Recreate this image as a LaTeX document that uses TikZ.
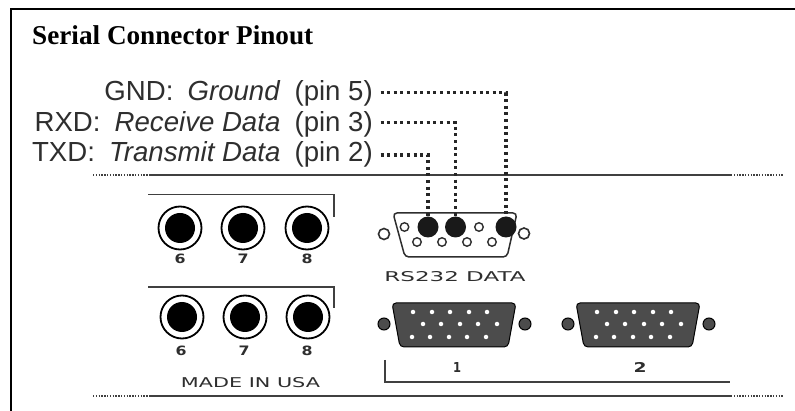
\documentclass[tikz,border=0pt]{standalone}
\usepackage{fontspec}
\usepackage{graphicx}
\setmainfont{Liberation Sans}
\newfontfamily\titlefont{Liberation Serif}
\newfontfamily\stampfont{DejaVu Sans}
\definecolor{ink}{HTML}{2E2E2E}
\definecolor{rulecol}{HTML}{404040}
\definecolor{vgafill}{HTML}{4C4C4C}
\newcommand{\fitstamp}[3]{\resizebox{#1pt}{#2pt}{\stampfont #3}}
\tikzset{
  pinlabel/.style={inner sep=0pt,anchor=base east,text=ink,font=\fontsize{27.6}{30}\selectfont},
  stamp/.style={inner sep=0pt,text=ink},
  leader/.style={line width=3.1pt,black!85,dash pattern=on 3pt off 3.6pt},
  sideleader/.style={line width=1.8pt,rulecol,dash pattern=on 1.4pt off 1.4pt},
  mainrule/.style={line width=2pt,rulecol},
  bracket/.style={line width=1.6pt,rulecol},
  bigpin/.style={circle,fill=black!90,minimum size=21pt,inner sep=0pt},
  hole/.style={circle,draw=ink,line width=1.4pt,fill=white,minimum size=8.5pt,inner sep=0pt},
  sidehole/.style={circle,draw=ink,line width=1.6pt,fill=white,minimum size=11pt,inner sep=0pt},
  screw/.style={circle,draw=black,line width=1pt,fill=vgafill,minimum size=12pt,inner sep=0pt},
  vgapin/.style={circle,fill=white,minimum size=4.5pt,inner sep=0pt},
}
\newcommand{\jack}[3]{%
  \node[circle,draw=black,line width=1.8pt,fill=white,minimum size=43pt,inner sep=0pt] (#3) at (#1,#2) {};
  \node[circle,fill=black,minimum size=30pt,inner sep=0pt] at (#1,#2) {};
}
\newcommand{\vga}[1]{%
  \begin{scope}[shift={(#1,0)}]
    \fill[vgafill,draw=black,line width=1pt,rounded corners=4pt]
      (392,303) -- (516,303) -- (508,347) -- (400,347) -- cycle;
    \foreach \x in {413,432,450,469,487} \node[vgapin] at (\x,312) {};
    \foreach \x in {423,441,460,478,497} \node[vgapin] at (\x,324) {};
    \foreach \x in {412,430,449,467,486} \node[vgapin] at (\x,337) {};
  \end{scope}
}
\begin{document}
\begin{tikzpicture}[x=1pt,y=-1pt]
\useasboundingbox (0,0) rectangle (795,411);
\fill[white] (0,0) rectangle (795,411);
% frame (open on the right and the bottom)
\draw[line width=2.4pt,black] (11,411) -- (11,9) -- (795,9);
\node[inner sep=0pt,anchor=base west,font=\titlefont\bfseries\fontsize{27.2}{30}\selectfont] (title) at (32,45) {Serial Connector Pinout};
% labels
\node[pinlabel] (gnd) at (373,100.7) {GND:\hspace{6.5pt} \textit{Ground}\hspace{6.5pt} (pin 5)};
\node[pinlabel] (rxd) at (373,131.7) {RXD:\hspace{6.5pt} \textit{Receive Data}\hspace{6.5pt} (pin 3)};
\node[pinlabel] (txd) at (373,162) {TXD:\hspace{6.5pt} \textit{Transmit Data}\hspace{6.5pt} (pin 2)};
% long rules
\coordinate (ruleA) at (150,175.4);
\coordinate (ruleB) at (731,175.4);
\coordinate (ruleC) at (150,395.6);
\coordinate (ruleD) at (731,395.6);
\coordinate (dotA) at (93,175.4);
\coordinate (dotB) at (783,175.4);
\coordinate (dotC) at (93,395.6);
\coordinate (dotD) at (783,395.6);
\draw[mainrule] (ruleA) -- (ruleB);
\draw[mainrule] (ruleC) -- (ruleD);
\draw[sideleader] (dotA) -- (ruleA);
\draw[sideleader] (ruleB) -- (dotB);
\draw[sideleader] (dotC) -- (ruleC);
\draw[sideleader] (ruleD) -- (dotD);
% jack brackets
\draw[bracket] (148,194.5) -- (334,194.5) -- (334,217);
\draw[bracket] (148,287) -- (334,287) -- (334,308);
% jacks
\jack{180}{228}{ja}\jack{243}{228}{jb}\jack{307}{228}{jc}
\jack{182}{317}{jd}\jack{245}{317}{je}\jack{308}{317}{jf}
\foreach \x/\t in {180/6,243/7,307/8} \node[stamp] at (\x,259) {\fitstamp{11}{9.5}{\bfseries\t}};
\foreach \x/\t in {181/6,244/7,307/8} \node[stamp] at (\x,351) {\fitstamp{11}{9.5}{\bfseries\t}};
\node[stamp] (usa) at (250.5,382.5) {\fitstamp{139}{10}{MADE IN USA}};
% serial connector
\draw[ink,line width=1.5pt,fill=white,rounded corners=4pt] (393,213) -- (517,213) -- (507,257) -- (405,257) -- cycle;
\node[sidehole] at (384,234) {};
\node[sidehole] at (524,233.5) {};
\foreach \x in {404.5,479} \node[hole] at (\x,227) {};
\foreach \x in {417,442,467,492} \node[hole] at (\x,242) {};
\node[bigpin] (p2) at (428,227) {};
\node[bigpin] (p3) at (455.5,227) {};
\node[bigpin] (p5) at (506,227) {};
\node[stamp] (rs) at (455,277) {\fitstamp{141}{10}{RS232 DATA}};
% leaders
\draw[leader] (gnd.base east) ++(7.5,-8) -- (506,92.7) -- (p5.north);
\draw[leader] (rxd.base east) ++(7.5,-9) -- (455.5,122.7) -- (p3.north);
\draw[leader] (txd.base east) ++(7.5,-7) -- (428,155) -- (p2.north);
% VGA
\vga{0}\vga{184}
\node[screw] at (384,324) {};
\node[screw] at (525,324) {};
\node[screw] at (568,324) {};
\node[screw] at (709,324) {};
\node[stamp] (one) at (457,367) {\fitstamp{8}{10}{\bfseries 1}};
\node[stamp] (two) at (640,367) {\fitstamp{13}{10}{\bfseries 2}};
\draw[bracket] (385,360) -- (385,382) -- (730,382);
\end{tikzpicture}
\end{document}
